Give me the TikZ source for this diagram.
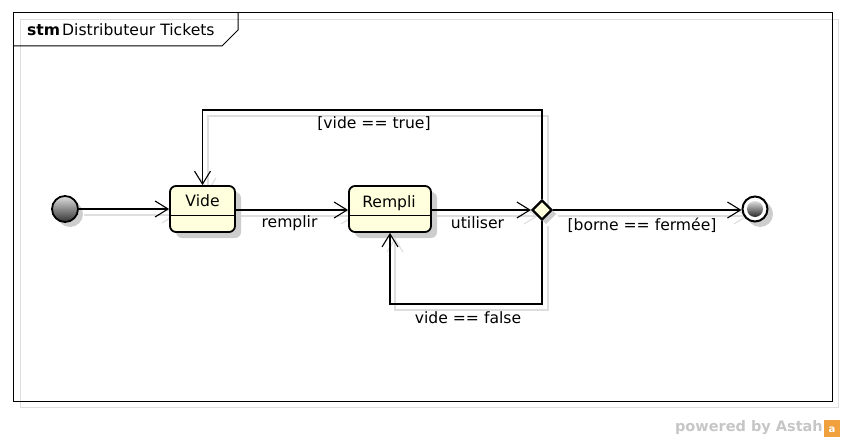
\documentclass[tikz,border=0pt]{standalone}
\usepackage{fontspec}
\setmainfont{DejaVu Sans}
\usetikzlibrary{shapes.geometric,arrows.meta}
\definecolor{stfill}{RGB}{255,255,221}
\definecolor{shd}{RGB}{222,222,222}
\definecolor{stshd}{RGB}{205,205,205}
\definecolor{astah}{RGB}{240,160,60}
\tikzset{
  txt/.style={font=\fontsize{15.6}{18}\selectfont, inner sep=0pt},
  statebox/.style={draw=black, line width=1.8pt, rounded corners=6pt, fill=stfill, minimum width=#1, minimum height=46pt, inner sep=0pt},
  stateshadow/.style={fill=stshd, rounded corners=6pt},
  conn/.style={draw=black, line width=1.1pt, -{Straight Barb[length=13pt,width=16pt,line width=1.1pt]}},
  connshd/.style={draw=shd, line width=1.1pt, -{Straight Barb[length=13pt,width=16pt,line width=1.1pt]}},
}
\begin{document}
\begin{tikzpicture}[x=1pt,y=-1pt]
\useasboundingbox (0,0) rectangle (845,441);
% frame shadow
\draw[shd, line width=1pt] (20,20) rectangle (838,407);
% frame
\draw[black, line width=1pt] (13,13) rectangle (832,401);
\draw[black, line width=1pt] (238,13) -- (238,30) -- (222,46) -- (13,46);
\node[txt, anchor=west, font=\fontsize{15.6}{18}\selectfont\bfseries] (stm) at (27,30) {stm};
\node[txt, anchor=west] (title) at (62,30) {Distributeur Tickets};

% shadows of connectors
\begin{scope}[transform canvas={xshift=6pt,yshift=-6pt}]
\draw[connshd] (78,209) -- (170,209);
\draw[connshd] (235,210) -- (349,210);
\draw[connshd] (431,210) -- (532,210);
\draw[connshd] (552,210) -- (742,210);
\draw[connshd] (542,200) -- (542,110) -- (202,110) -- (202,186);
\draw[connshd] (542,220) -- (542,304) -- (389,304) -- (389,232);
\end{scope}

% shadows of states
\fill[stateshadow] (176,192) rectangle (241,238);
\fill[stateshadow] (355,192) rectangle (437,238);
\fill[stshd] (70,214) circle (13);
\fill[stshd] (760,214) circle (13);
\fill[stshd] (546,204) -- (556,214) -- (546,224) -- (536,214) -- cycle;

% states
\node[circle, draw=black, line width=1.8pt, minimum size=26pt, inner sep=0pt,
      shading=axis, shading angle=135, top color=gray!25, bottom color=black!80] (init) at (65,209) {};
\node[statebox=65pt] (vide) at (202.5,209) {};
\draw[black, line width=1pt] (vide.west |- 0,215) -- (vide.east |- 0,215);
\node[txt] (videtxt) at (202.5,201) {Vide};
\node[statebox=82pt] (rempli) at (390,209) {};
\draw[black, line width=1pt] (rempli.west |- 0,215) -- (rempli.east |- 0,215);
\node[txt] (remplitxt) at (389,203) {Rempli};
\node[diamond, draw=black, line width=2.2pt, fill=stfill, minimum width=20pt, minimum height=20pt, inner sep=0pt] (ch) at (542,210) {};
\node[circle, draw=black, line width=2pt, fill=white, minimum size=25pt, inner sep=0pt] (fin) at (755,209) {};
\node[circle, minimum size=16pt, inner sep=0pt, shading=axis, shading angle=135, top color=gray!25, bottom color=black!85] (fininner) at (755,209) {};

% connectors
\draw[conn] (init) -- (vide.west |- init);
\draw[conn] (vide.east |- 0,210) -- (rempli.west |- 0,210);
\draw[conn] (rempli.east |- 0,210) -- (ch.west);
\draw[conn] (ch.east) -- (fin.west |- ch);
\draw[conn] (ch.north) -- (ch.north |- 0,110) -| (vide.north);
\draw[conn] (ch.south) -- (ch.south |- 0,304) -| (rempli.south);

% labels
\node[txt] (lremplir) at (289.5,223) {remplir};
\node[txt] (lutiliser) at (477.5,223) {utiliser};
\node[txt] (lborne) at (642,225) {[borne == fermée]};
\node[txt] (ltrue) at (374,124) {[vide == true]};
\node[txt] (lfalse) at (468,318) {vide == false};

% powered by
\node[txt, anchor=east, font=\fontsize{14.5}{16}\selectfont\bfseries, text=gray!45] (pow) at (823,428) {powered by Astah};
\fill[astah] (824,420) rectangle (840,437);
\node[inner sep=0pt, text=white, font=\fontsize{10}{10}\selectfont\bfseries] (icon) at (832,430) {a};
\end{tikzpicture}
\end{document}
